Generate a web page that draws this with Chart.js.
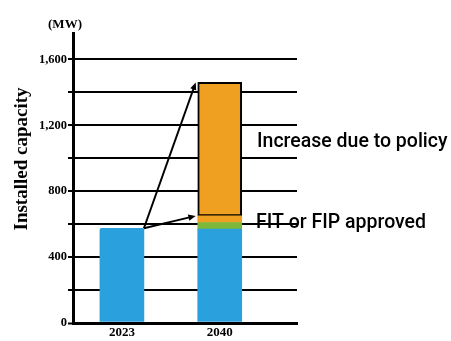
<!DOCTYPE html>
<html>
<head>
<meta charset="utf-8">
<script src="https://cdn.jsdelivr.net/npm/chart.js@4/dist/chart.umd.min.js"></script>
<style>
  html, body { margin: 0; padding: 0; background: #fff; }
  #wrap { width: 451px; height: 341px; position: relative; }
</style>
</head>
<body>
<div id="wrap"><canvas id="myChart"></canvas></div>
<script>
const categories = ['2023', '2040'];
// MW, stacked bottom to top
const existingCap = [575, 570];
const fitApproved = [null, 40];
const fipApproved = [null, 40];
const policyIncrease = [null, 810];
const gridValues = [0, 200, 400, 600, 800, 1000, 1200, 1400, 1600];
const yTickLabels = [0, 400, 800, 1200, 1600];

const serif = 'Liberation Serif';
const blue = 'rgb(42, 160, 220)';
const green = 'rgb(125, 184, 58)';
const orange = 'rgb(240, 160, 32)';

function toPoints(arr) {
  return arr.map((v, i) => ({ x: i + 0.5, y: v }));
}

function arrow(ctx, x1, y1, x2, y2) {
  const ang = Math.atan2(y2 - y1, x2 - x1);
  const head = 8;
  ctx.beginPath();
  ctx.moveTo(x1, y1);
  ctx.lineTo(x2 - Math.cos(ang) * head * 0.8, y2 - Math.sin(ang) * head * 0.8);
  ctx.stroke();
  ctx.beginPath();
  ctx.moveTo(x2, y2);
  ctx.lineTo(x2 - head * Math.cos(ang - 0.4), y2 - head * Math.sin(ang - 0.4));
  ctx.lineTo(x2 - head * Math.cos(ang + 0.4), y2 - head * Math.sin(ang + 0.4));
  ctx.closePath();
  ctx.fill();
}

// arrows from the 2023 bar and the side texts
const notes = {
  id: 'notes',
  afterDatasetsDraw(chart) {
    const ctx = chart.ctx;
    const from = chart.getDatasetMeta(0).data[0];
    const topBox = chart.getDatasetMeta(3).data[1];
    const approved = chart.getDatasetMeta(2).data[1];
    const x1 = from.x + from.width / 2;
    const y1 = from.y;
    const x2 = topBox.x - topBox.width / 2 - 2;
    ctx.save();
    ctx.strokeStyle = '#000';
    ctx.fillStyle = '#000';
    ctx.lineWidth = 2;
    arrow(ctx, x1, y1, x2, topBox.y);
    arrow(ctx, x1, y1, x2, approved.y);
    ctx.restore();
  },
  afterDraw(chart) {
    const ctx = chart.ctx;
    ctx.save();
    ctx.fillStyle = '#000';
    ctx.textBaseline = 'middle';
    ctx.textAlign = 'center';
    ctx.font = `bold 13px "${serif}"`;
    ctx.fillText('(MW)', 65, 25);
    ctx.translate(22, 159);
    ctx.rotate(-Math.PI / 2);
    ctx.font = `bold 19px "${serif}"`;
    ctx.fillText('Installed capacity', 0, 0);
    ctx.restore();

    ctx.save();
    ctx.fillStyle = '#000';
    ctx.textBaseline = 'middle';
    ctx.textAlign = 'left';
    ctx.font = '500 19.5px Roboto';
    ctx.fillText('Increase due to policy', 257, 142);
    ctx.fillText('FIT or FIP approved', 256, 223);
    ctx.restore();
  },
};

const ctx = document.getElementById('myChart').getContext('2d');
const chart = new Chart(ctx, {
  type: 'bar',
  data: {
    datasets: [
      { label: 'Existing', data: toPoints(existingCap), backgroundColor: blue, borderRadius: 2, borderSkipped: 'bottom' },
      { label: 'FIT', data: toPoints(fitApproved), backgroundColor: green },
      { label: 'FIP', data: toPoints(fipApproved), backgroundColor: orange },
      {
        label: 'Policy',
        data: toPoints(policyIncrease),
        backgroundColor: orange,
        borderColor: '#000',
        borderWidth: 2,
        borderSkipped: false,
      },
    ],
  },
  options: {
    responsive: true,
    maintainAspectRatio: false,
    animation: false,
    barThickness: 44,
    layout: { padding: { top: 33, right: 154, bottom: 0, left: 0 } },
    plugins: { legend: { display: false }, tooltip: { enabled: false } },
    scales: {
      x: {
        type: 'linear',
        stacked: true,
        offset: false,
        min: 0,
        max: 2.29,
        afterBuildTicks: (axis) => {
          axis.ticks = categories.map((c, i) => ({ value: i + 0.5 }));
        },
        afterFit: (scale) => { scale.height = 18; },
        ticks: {
          color: '#000',
          padding: 2,
          font: { family: serif, size: 13, weight: 'bold' },
          callback: (v) => categories[Math.round(v - 0.5)],
        },
        grid: { display: false, drawTicks: false },
        border: { display: true, color: '#000', width: 3 },
      },
      y: {
        stacked: true,
        min: 0,
        max: 1760,
        afterBuildTicks: (axis) => {
          axis.ticks = gridValues.map((v) => ({ value: v }));
        },
        afterFit: (scale) => { scale.width = 73; },
        ticks: {
          autoSkip: false,
          color: '#000',
          padding: 1,
          font: { family: serif, size: 12.5, weight: 'bold' },
          callback: (v) => (yTickLabels.includes(v) ? v.toLocaleString('en-US') : ''),
        },
        grid: {
          color: '#000',
          lineWidth: (c) => (c.tick && c.tick.value === 0 ? 3 : 2),
          tickLength: 5,
          tickWidth: 2,
        },
        border: { display: true, color: '#000', width: 3 },
      },
    },
  },
  plugins: [notes],
});
</script>
</body>
</html>
